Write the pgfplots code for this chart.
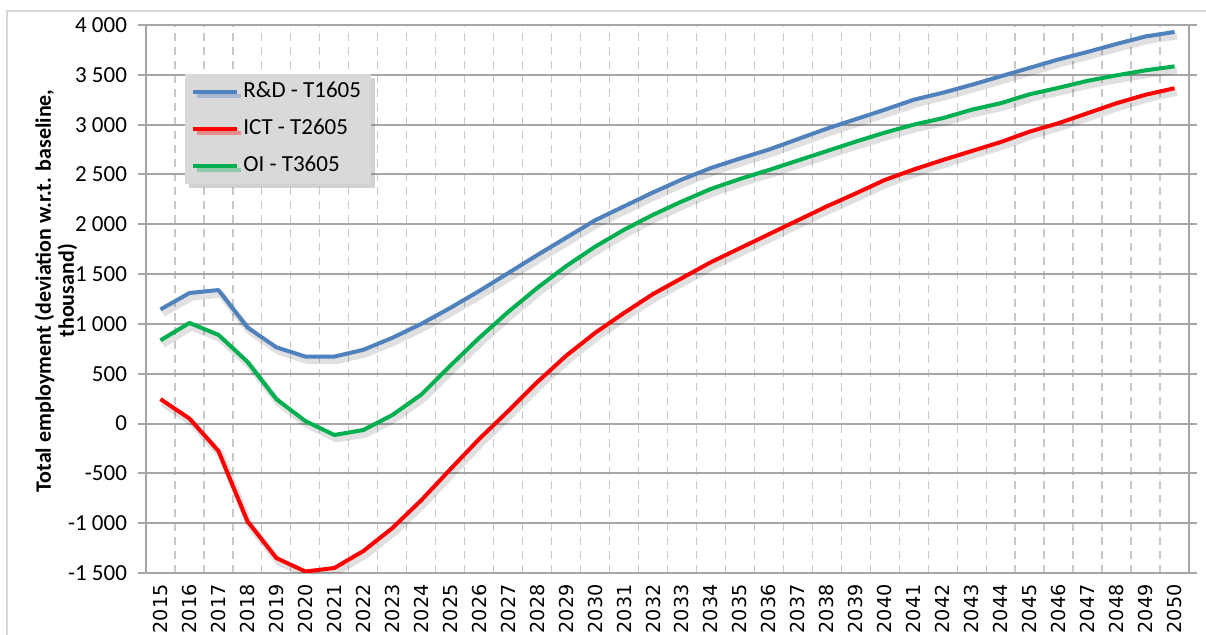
\documentclass[border=0pt]{standalone}
\usepackage{pgfplots}
\pgfplotsset{compat=1.18}
\usepackage{pgfplotstable}
\usepackage{fontspec}
\setmainfont{Carlito}
\newfontfamily\dejavu{DejaVu Sans}
\usetikzlibrary{shadows}
\definecolor{rdblue}{HTML}{4F81BD}
\definecolor{ictred}{HTML}{FF0000}
\definecolor{oigreen}{HTML}{00B050}
\definecolor{gridgray}{HTML}{A6A6A6}
\definecolor{dashgray}{HTML}{C8C8C8}
\definecolor{legfill}{HTML}{D9D9D9}
\definecolor{framegray}{HTML}{D9D9D9}

\pgfplotstableread{
year rd ict oi
2015 1145 245 835
2016 1310 50 1010
2017 1340 -275 890
2018 965 -980 620
2019 765 -1350 245
2020 672 -1485 25
2021 672 -1450 -115
2022 740 -1280 -65
2023 860 -1050 85
2024 1000 -770 290
2025 1160 -460 580
2026 1330 -155 860
2027 1510 125 1120
2028 1690 415 1360
2029 1865 680 1580
2030 2040 910 1775
2031 2180 1110 1945
2032 2320 1300 2095
2033 2450 1460 2230
2034 2565 1620 2355
2035 2660 1760 2455
2036 2750 1900 2545
2037 2855 2040 2640
2038 2960 2180 2735
2039 3055 2310 2830
2040 3150 2445 2920
2041 3250 2550 3000
2042 3320 2645 3065
2043 3400 2735 3150
2044 3485 2825 3215
2045 3570 2930 3305
2046 3655 3015 3370
2047 3730 3115 3440
2048 3810 3215 3495
2049 3885 3300 3545
2050 3930 3365 3585
}\datatable

\begin{document}
\begin{tikzpicture}
\useasboundingbox (-73pt,-31pt) rectangle (530pt,286.5pt);
\clip (-73pt,-31pt) rectangle (530pt,286.5pt);
\fill[white] (-73pt,-31pt) rectangle (530pt,286.5pt);
\draw[framegray, line width=0.7pt] (-69.5pt,-40pt) -- (-69.5pt,281pt) -- (540pt,281pt);
\begin{axis}[
  at={(0pt,0pt)}, anchor=south west,
  scale only axis, width=521.5pt, height=274pt,
  xmin=2014.5, xmax=2050.5, ymin=-1500, ymax=4000,
  xtick={2015,2016,...,2050},
  xticklabel={\pgfmathprintnumber[assume math mode=true,1000 sep={}]{\tick}},
  xticklabel style={font=\dejavu\fontsize{9.6}{10}\selectfont, yshift=-1.5pt, rotate=90, anchor=east, inner sep=0pt},
  minor xtick={2015.5,2016.5,...,2049.5},
  ytick={-1500,-1000,...,4000},
  yticklabels={-1 500,-1 000,-500,0,500,1 000,1 500,2 000,2 500,3 000,3 500,4 000},
  yticklabel style={font=\fontsize{11.5}{12}\selectfont, xshift=-2pt},
  ymajorgrids=true, xminorgrids=true,
  major grid style={gridgray, line width=1pt},
  minor grid style={dashgray, dash pattern=on 4pt off 3pt, line width=0.6pt},
  axis line style={gridgray, line width=1pt},
  xtick style={draw=none},
  minor tick length=0pt,
  ytick style={gridgray, line width=1pt},
  tick align=outside, major tick length=4pt,
  extra y ticks={0}, extra y tick labels={},
  extra y tick style={grid style={gray!75, line width=1.2pt}},
  ylabel={Total employment (deviation w.r.t. baseline,\\ thousand)},
  ylabel style={font=\bfseries\fontsize{11}{11.5}\selectfont, align=center, at={(axis description cs:-0.0863,0.515)}, anchor=center, rotate=0},
  no markers,
  line join=round,
  legend style={at={(axis description cs:0.0374,0.912)}, anchor=north west,
    fill=legfill, draw=none,
    drop shadow={shadow xshift=2pt, shadow yshift=-2pt, opacity=0.35},
    font=\fontsize{11.5}{12}\selectfont,
    inner xsep=3pt, inner ysep=1.5pt, row sep=3.5pt,
    nodes={inner sep=2pt, text height=8.5pt, text depth=2.5pt}},
  legend cell align=left,
  legend image code/.code={\draw[#1, line width=2pt] (0pt,0pt) -- (22pt,0pt);},
]
\addplot[forget plot, black, opacity=0.12, line width=3.5pt, xshift=1.2pt, yshift=-2pt] table[x=year,y=rd]{\datatable};
\addplot[forget plot, black, opacity=0.12, line width=3.5pt, xshift=1.2pt, yshift=-2pt] table[x=year,y=ict]{\datatable};
\addplot[forget plot, black, opacity=0.12, line width=3.5pt, xshift=1.2pt, yshift=-2pt] table[x=year,y=oi]{\datatable};
\addplot[rdblue, line width=2pt] table[x=year,y=rd]{\datatable};
\addlegendentry{R\&D - T1605}
\addplot[ictred, line width=2pt] table[x=year,y=ict]{\datatable};
\addlegendentry{ICT - T2605}
\addplot[oigreen, line width=2pt] table[x=year,y=oi]{\datatable};
\addlegendentry{OI - T3605}
\end{axis}
\end{tikzpicture}
\end{document}
